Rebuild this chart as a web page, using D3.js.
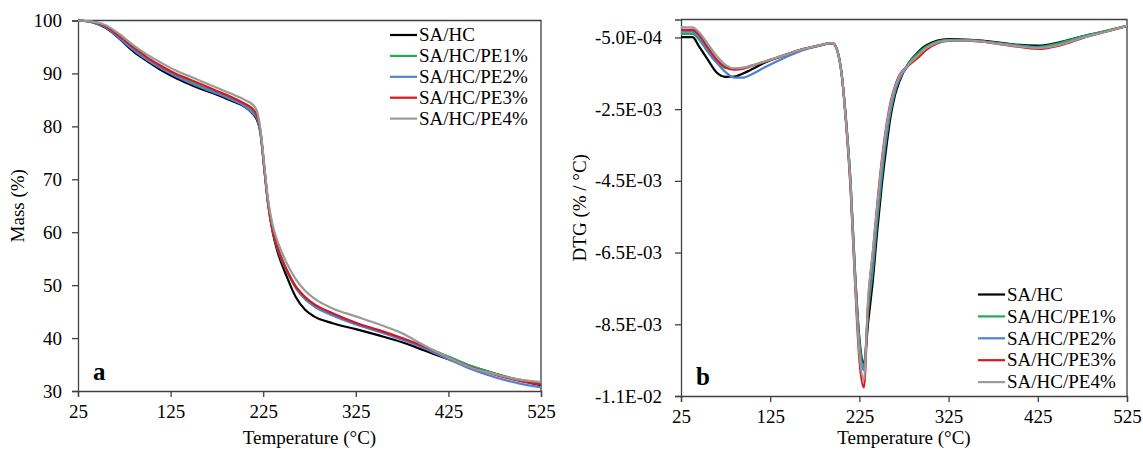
<!DOCTYPE html>
<html>
<head>
<meta charset="utf-8">
<script src="https://cdn.jsdelivr.net/npm/d3@7"></script>
<style>
  html, body { margin: 0; padding: 0; background: #fff; }
  svg text { font-family: "Liberation Serif", "Times New Roman", serif; fill: #000; }
</style>
</head>
<body>
<svg id="chart" width="1143" height="451"></svg>
<script>
// ---- Series names and colours ----
const seriesNames = ["SA/HC", "SA/HC/PE1%", "SA/HC/PE2%", "SA/HC/PE3%", "SA/HC/PE4%"];
const seriesColors = ["#000000", "#1fae55", "#4f7fd6", "#dc141c", "#9a9a9a"];

// ---- (a) TGA: mass (%) vs temperature (°C) ----
const tgaTemp = [25, 40, 55, 70, 85, 100, 115, 130, 145, 160, 175, 190, 205, 213, 218, 222, 226, 230, 235, 240, 245, 250, 260, 270, 280, 300, 325, 350, 375, 400, 425, 450, 475, 500, 525];
const massSAHC = [100, 99.7, 98.6, 96.5, 94.1, 92.3, 90.6, 89.2, 88.0, 86.9, 86.0, 84.9, 83.7, 82.5, 81.3, 78.8, 72.3, 65.8, 60.2, 56.6, 54.0, 51.8, 47.8, 45.4, 44.1, 42.8, 41.7, 40.5, 39.2, 37.6, 36.0, 34.6, 33.3, 32.1, 31.1];
const massPE1 = [100, 99.8, 98.8, 96.8, 94.6, 92.7, 91.1, 89.7, 88.5, 87.4, 86.4, 85.3, 84.0, 82.9, 81.8, 79.0, 72.4, 65.8, 60.4, 57.1, 54.7, 52.8, 49.5, 47.4, 46.0, 44.3, 42.6, 41.3, 39.9, 38.3, 36.5, 34.7, 33.3, 32.2, 31.5];
const massPE2 = [100, 99.7, 98.7, 96.6, 94.4, 92.5, 90.9, 89.5, 88.3, 87.2, 86.2, 85.1, 83.8, 82.6, 81.6, 78.9, 72.5, 66.2, 60.9, 57.6, 55.1, 53.1, 49.7, 47.5, 46.1, 44.3, 42.6, 41.2, 39.7, 38.0, 36.0, 34.1, 32.6, 31.5, 30.7];
const massPE3 = [100, 99.8, 98.9, 97.0, 94.9, 93.0, 91.4, 90.0, 88.9, 87.8, 86.7, 85.6, 84.3, 83.4, 82.2, 79.2, 72.5, 65.8, 60.5, 57.3, 54.9, 53.0, 49.8, 47.8, 46.4, 44.7, 42.9, 41.5, 40.0, 38.3, 36.3, 34.5, 33.1, 32.0, 31.2];
const massPE4 = [100, 99.8, 99.1, 97.4, 95.3, 93.5, 92.0, 90.6, 89.5, 88.4, 87.3, 86.2, 85.0, 84.2, 83.0, 79.5, 73.0, 66.5, 61.5, 58.5, 56.3, 54.3, 51.2, 49.0, 47.5, 45.6, 44.1, 42.6, 40.9, 38.5, 36.3, 34.4, 33.2, 32.2, 31.7];

// ---- (b) DTG (×1e-3 %/°C) vs temperature (°C) ----
const dtgTemp = [25, 38, 45, 55, 65, 75, 85, 95, 105, 120, 140, 160, 180, 195, 200, 205, 210, 215, 220, 225, 230, 235, 240, 245, 250, 255, 260, 265, 270, 280, 290, 300, 325, 350, 375, 400, 425, 450, 475, 500, 525];
const dtgSAHC = [-0.49, -0.49, -0.74, -1.12, -1.48, -1.60, -1.59, -1.50, -1.38, -1.19, -1.01, -0.84, -0.73, -0.66, -0.85, -1.5, -2.8, -4.5, -7.0, -8.9, -9.59, -8.4, -7.3, -5.9, -4.65, -3.6, -2.7, -2.1, -1.72, -1.22, -0.93, -0.72, -0.55, -0.57, -0.62, -0.70, -0.73, -0.63, -0.47, -0.33, -0.18];
const dtgPE1 = [-0.40, -0.40, -0.55, -0.90, -1.20, -1.35, -1.38, -1.35, -1.28, -1.17, -1.00, -0.84, -0.72, -0.66, -0.85, -1.5, -2.8, -4.5, -7.0, -9.0, -9.68, -8.1, -7.0, -5.6, -4.4, -3.35, -2.55, -2.0, -1.65, -1.22, -0.96, -0.75, -0.57, -0.58, -0.64, -0.71, -0.76, -0.65, -0.47, -0.33, -0.18];
const dtgPE2 = [-0.34, -0.34, -0.50, -0.86, -1.20, -1.47, -1.62, -1.62, -1.52, -1.32, -1.08, -0.87, -0.73, -0.66, -0.85, -1.5, -2.8, -4.6, -7.1, -9.1, -9.78, -7.9, -6.8, -5.45, -4.25, -3.25, -2.5, -1.98, -1.66, -1.28, -1.03, -0.82, -0.59, -0.59, -0.65, -0.73, -0.79, -0.69, -0.50, -0.35, -0.18];
const dtgPE3 = [-0.29, -0.29, -0.42, -0.78, -1.12, -1.33, -1.40, -1.37, -1.29, -1.17, -1.00, -0.84, -0.72, -0.66, -0.85, -1.5, -2.9, -4.7, -7.3, -9.5, -10.26, -7.8, -6.5, -5.15, -3.95, -3.0, -2.3, -1.85, -1.55, -1.28, -1.08, -0.85, -0.60, -0.60, -0.66, -0.75, -0.82, -0.72, -0.52, -0.35, -0.18];
const dtgPE4 = [-0.22, -0.22, -0.35, -0.68, -1.02, -1.27, -1.36, -1.34, -1.28, -1.16, -1.00, -0.84, -0.72, -0.66, -0.85, -1.5, -2.85, -4.6, -7.2, -9.3, -10.06, -7.7, -6.5, -5.2, -4.0, -3.05, -2.35, -1.88, -1.58, -1.26, -1.02, -0.80, -0.59, -0.59, -0.66, -0.74, -0.80, -0.70, -0.51, -0.35, -0.18];

// ---- Axis ticks ----
const tempTicks = [25, 125, 225, 325, 425, 525];
const massTicks = [30, 40, 50, 60, 70, 80, 90, 100];
const dtgTickValues = [-0.0105, -0.0085, -0.0065, -0.0045, -0.0025, -0.0005];
const dtgTickLabels = ["-1.1E-02", "-8.5E-03", "-6.5E-03", "-4.5E-03", "-2.5E-03", "-5.0E-04"];

const svg = d3.select("#chart");
const axisColor = "#404040";

function drawPanel(cfg) {
  const g = svg.append("g");
  const x = d3.scaleLinear().domain([25, 525]).range([cfg.left, cfg.right]);
  const y = d3.scaleLinear().domain(cfg.yDomain).range([cfg.bottom, cfg.top]);

  // frame (top and right edges of the plot area)
  g.append("path")
    .attr("d", `M${cfg.left},${cfg.top}H${cfg.right}V${cfg.bottom}`)
    .attr("fill", "none").attr("stroke", axisColor).attr("stroke-width", 1.3);

  // x axis
  const xAxis = g.append("g")
    .attr("transform", `translate(0,${cfg.bottom})`)
    .call(d3.axisBottom(x).tickValues(tempTicks).tickSize(6).tickPadding(8).tickFormat(d3.format("d")));
  xAxis.select(".domain").attr("stroke", axisColor).attr("stroke-width", 1.3);
  xAxis.selectAll(".tick line").attr("stroke", axisColor).attr("stroke-width", 1.3);
  xAxis.selectAll("text").attr("font-size", 19).attr("font-family", "Liberation Serif").attr("fill", "#000");

  // y axis
  const yAxis = g.append("g")
    .attr("transform", `translate(${cfg.left},0)`)
    .call(d3.axisLeft(y).tickValues(cfg.yTicks).tickSize(6).tickPadding(cfg.yPad).tickFormat(cfg.yFormat));
  yAxis.select(".domain").attr("stroke", axisColor).attr("stroke-width", 1.3);
  yAxis.selectAll(".tick line").attr("stroke", axisColor).attr("stroke-width", 1.3);
  yAxis.selectAll("text").attr("font-size", 19).attr("font-family", "Liberation Serif").attr("fill", "#000");

  // curves
  const line = d3.line()
    .x((d, i) => x(cfg.temps[i]))
    .y(d => y(d * cfg.scale))
    .curve(d3.curveMonotoneX);
  cfg.series.forEach((vals, k) => {
    g.append("path")
      .attr("d", line(vals))
      .attr("fill", "none")
      .attr("stroke", seriesColors[k])
      .attr("stroke-width", 2.2)
      .attr("stroke-linejoin", "round");
  });

  // axis titles
  g.append("text")
    .attr("x", (cfg.left + cfg.right) / 2).attr("y", 444)
    .attr("text-anchor", "middle").attr("font-size", 19)
    .text("Temperature (°C)");
  g.append("text")
    .attr("transform", `translate(${cfg.yTitleX},${(cfg.top + cfg.bottom) / 2}) rotate(-90)`)
    .attr("text-anchor", "middle").attr("font-size", 19)
    .text(cfg.yTitle);

  // panel letter
  g.append("text")
    .attr("x", cfg.left + 15).attr("y", cfg.bottom - 11)
    .attr("font-size", 25).attr("font-weight", "bold")
    .text(cfg.letter);

  // legend
  const lg = g.append("g").attr("transform", `translate(${cfg.legendX},${cfg.legendY})`);
  seriesNames.forEach((name, k) => {
    const row = lg.append("g").attr("transform", `translate(0,${k * cfg.legendStep})`);
    row.append("line").attr("x1", 0).attr("x2", 27).attr("y1", 0).attr("y2", 0)
      .attr("stroke", seriesColors[k]).attr("stroke-width", 2.2);
    row.append("text").attr("x", 29).attr("y", 0).attr("dy", "0.33em")
      .attr("font-size", 19).text(name);
  });
}

drawPanel({
  left: 78, right: 541, top: 20.5, bottom: 391,
  yDomain: [30, 100], yTicks: massTicks, yFormat: d3.format("d"), yPad: 10,
  temps: tgaTemp, scale: 1,
  series: [massSAHC, massPE1, massPE2, massPE3, massPE4],
  yTitle: "Mass (%)", yTitleX: 24, letter: "a",
  legendX: 390, legendY: 35, legendStep: 20.9
});

drawPanel({
  left: 681, right: 1127, top: 19.5, bottom: 396,
  yDomain: [-0.0105, 0], yTicks: dtgTickValues,
  yFormat: (d, i) => dtgTickLabels[i], yPad: 13,
  temps: dtgTemp, scale: 1e-3,
  series: [dtgSAHC, dtgPE1, dtgPE2, dtgPE3, dtgPE4],
  yTitle: "DTG (% / °C)", yTitleX: 586, letter: "b",
  legendX: 978, legendY: 294.5, legendStep: 21.9
});
</script>
</body>
</html>
